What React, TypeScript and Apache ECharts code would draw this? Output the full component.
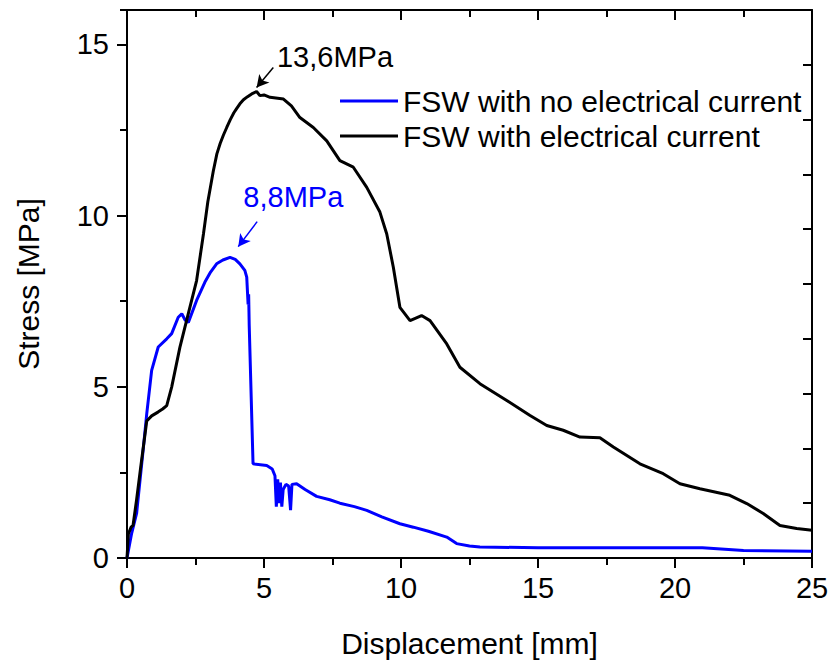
import React, { useEffect, useRef } from "react";
import * as echarts from "echarts";

// Displacement [mm] / Stress [MPa]
const blackX = [0, 0.05, 0.15, 0.22, 0.35, 0.5, 0.72, 0.9, 1.13, 1.3, 1.45, 1.63, 1.93, 2.24, 2.54, 2.79, 2.95, 3.15, 3.28, 3.4, 3.52, 3.64, 3.77, 3.9, 4.0, 4.12, 4.25, 4.4, 4.55, 4.73, 4.85, 5.0, 5.22, 5.71, 6.0, 6.31, 6.8, 7.29, 7.77, 8.26, 8.75, 9.23, 9.48, 9.72, 9.96, 10.33, 10.75, 11.06, 11.67, 12.15, 12.88, 13.86, 14.71, 15.32, 15.92, 16.53, 17.26, 17.75, 18.72, 19.57, 20.18, 20.91, 22.0, 22.62, 23.22, 23.83, 24.44, 25];
const blackY = [0, 0.7, 0.9, 0.95, 1.7, 2.65, 4.0, 4.15, 4.26, 4.35, 4.45, 4.99, 6.15, 7.14, 8.1, 9.46, 10.4, 11.3, 11.8, 12.1, 12.35, 12.57, 12.8, 13.0, 13.12, 13.26, 13.38, 13.47, 13.55, 13.62, 13.5, 13.52, 13.45, 13.4, 13.2, 12.86, 12.57, 12.18, 11.6, 11.41, 10.82, 10.1, 9.46, 8.49, 7.32, 6.93, 7.08, 6.93, 6.25, 5.57, 5.09, 4.6, 4.16, 3.87, 3.73, 3.53, 3.51, 3.24, 2.75, 2.46, 2.17, 2.02, 1.83, 1.59, 1.3, 0.95, 0.86, 0.81];

const blueX = [0, 0.17, 0.35, 0.6, 0.72, 0.9, 1.14, 1.45, 1.63, 1.87, 2.0, 2.12, 2.24, 2.54, 2.84, 3.05, 3.27, 3.5, 3.76, 3.95, 4.12, 4.3, 4.37, 4.42, 4.44, 4.46, 4.6, 5.1, 5.3, 5.4, 5.45, 5.5, 5.55, 5.6, 5.65, 5.7, 5.8, 5.9, 5.97, 6.02, 6.19, 6.5, 6.92, 7.4, 7.77, 8.3, 8.75, 9.3, 9.96, 10.45, 11.0, 11.67, 12.03, 12.5, 12.88, 15, 18, 21, 22.5, 25];
const blueY = [0, 0.72, 1.3, 3.24, 4.21, 5.48, 6.16, 6.4, 6.55, 7.03, 7.13, 6.95, 6.88, 7.52, 8.05, 8.35, 8.59, 8.7, 8.78, 8.72, 8.59, 8.4, 8.2, 7.4, 7.7, 6.8, 2.75, 2.7, 2.6, 2.4, 1.5, 2.3, 1.6, 2.2, 1.5, 2.0, 2.15, 2.1, 1.4, 2.15, 2.17, 2.0, 1.8, 1.7, 1.6, 1.5, 1.39, 1.2, 1.0, 0.9, 0.78, 0.61, 0.42, 0.35, 0.32, 0.3, 0.3, 0.3, 0.22, 0.2];

const seriesNames = ["FSW with no electrical current", "FSW with electrical current"];
const yTicks = [0, 5, 10, 15];

const peakLabels = ["13,6MPa", "8,8MPa"];
const peakLabelPos = [[7.59, 14.64], [6.07, 10.55]];
const arrowBlack = [[5.34, 14.32], [4.73, 13.74]];
const arrowBlue = [[4.75, 9.82], [4.06, 9.09]];

const FONT = "'Liberation Sans', Arial, sans-serif";

export default function App() {
  const ref = useRef<HTMLDivElement>(null);
  useEffect(() => {
    document.body.style.margin = "0";
    const chart = echarts.init(ref.current!, null, { renderer: "svg" });
    const axisLine = { show: true, onZero: false, lineStyle: { color: "#000", width: 2 } };
    const option: any = {
      animation: false,
      backgroundColor: "#fff",
      textStyle: { fontFamily: FONT },
      grid: { left: 127, right: 18, top: 10, bottom: 103, containLabel: false, outerBoundsMode: "none" },
      legend: {
        show: true,
        orient: "vertical",
        left: 335,
        top: 81,
        itemWidth: 58,
        itemHeight: 3,
        itemGap: 5,
        itemTextGap: 9,
        icon: "rect",
        textStyle: { fontSize: 30, color: "#000", fontFamily: FONT },
        data: seriesNames,
      },
      xAxis: [
        {
          type: "value",
          position: "bottom",
          min: 0,
          max: 25,
          interval: 5,
          name: "Displacement [mm]",
          nameLocation: "middle",
          nameGap: 70,
          nameTextStyle: { fontSize: 30, color: "#000", fontFamily: FONT },
          axisLine,
          axisTick: { show: true, length: 10, lineStyle: { color: "#000", width: 2 } },
          minorTick: { show: true, splitNumber: 2, length: 7, lineStyle: { color: "#000", width: 2 } },
          axisLabel: { fontSize: 29, color: "#000", margin: 15, fontFamily: FONT },
          splitLine: { show: false },
          minorSplitLine: { show: false },
        },
        {
          type: "value",
          position: "top",
          min: 0,
          max: 25,
          interval: 5,
          axisLine,
          axisTick: { show: true, inside: true, length: 10, lineStyle: { color: "#000", width: 2 } },
          minorTick: { show: true, splitNumber: 2, length: 7, lineStyle: { color: "#000", width: 2 } },
          axisLabel: { show: true, inside: true, color: "rgba(0,0,0,0)", fontSize: 10 },
          splitLine: { show: false },
          minorSplitLine: { show: false },
        },
      ],
      yAxis: [
        {
          type: "value",
          position: "left",
          min: 0,
          max: 16,
          name: "Stress [MPa]",
          nameLocation: "middle",
          nameGap: 84,
          nameTextStyle: { fontSize: 30, color: "#000", fontFamily: FONT },
          axisLine,
          axisTick: { show: true, length: 10, lineStyle: { color: "#000", width: 2 }, customValues: yTicks },
          axisLabel: { fontSize: 29, color: "#000", margin: 18, fontFamily: FONT, customValues: yTicks },
          splitLine: { show: false },
        },
        {
          type: "value",
          position: "left",
          min: 0,
          max: 16,
          interval: 2.5,
          axisLine,
          axisTick: { show: true, length: 7, lineStyle: { color: "#000", width: 2 } },
          axisLabel: { show: true, inside: true, color: "rgba(0,0,0,0)", fontSize: 10 },
          splitLine: { show: false },
        },
        {
          type: "value",
          position: "right",
          min: 0,
          max: 16,
          interval: 1.6,
          axisLine,
          axisTick: { show: true, inside: true, length: 9, lineStyle: { color: "#000", width: 2 } },
          axisLabel: { show: false },
          splitLine: { show: false },
        },
      ],
      series: [
        {
          name: seriesNames[0],
          type: "line",
          xAxisIndex: 0,
          yAxisIndex: 0,
          color: "#0000ff",
          showSymbol: false,
          symbol: "none",
          lineStyle: { color: "#0000ff", width: 3 },
          data: blueX.map((x, i) => [x, blueY[i]]),
          z: 2,
          markLine: {
            silent: true,
            symbol: ["none", "arrow"],
            symbolSize: [10, 12],
            label: { show: false },
            lineStyle: { color: "#0000ff", width: 1.5, type: "solid" },
            data: [[{ coord: arrowBlue[0] }, { coord: arrowBlue[1] }]],
          },
          markPoint: {
            silent: true,
            symbol: "circle",
            symbolSize: 0,
            itemStyle: { color: "transparent" },
            label: { show: true, position: "inside", color: "#0000ff", fontSize: 29, fontFamily: FONT },
            data: [{ coord: peakLabelPos[1], label: { formatter: peakLabels[1] } }],
          },
        },
        {
          name: seriesNames[1],
          type: "line",
          xAxisIndex: 0,
          yAxisIndex: 0,
          color: "#000000",
          showSymbol: false,
          symbol: "none",
          lineStyle: { color: "#000000", width: 3 },
          data: blackX.map((x, i) => [x, blackY[i]]),
          z: 3,
          markLine: {
            silent: true,
            symbol: ["none", "arrow"],
            symbolSize: [10, 12],
            label: { show: false },
            lineStyle: { color: "#000", width: 1.5, type: "solid" },
            data: [[{ coord: arrowBlack[0] }, { coord: arrowBlack[1] }]],
          },
          markPoint: {
            silent: true,
            symbol: "circle",
            symbolSize: 0,
            itemStyle: { color: "transparent" },
            label: { show: true, position: "inside", color: "#000", fontSize: 29, fontFamily: FONT },
            data: [{ coord: peakLabelPos[0], label: { formatter: peakLabels[0] } }],
          },
        },
      ],
    };
    chart.setOption(option);
    return () => chart.dispose();
  }, []);
  return (
    <div
      ref={ref}
      style={{ position: "fixed", left: 0, top: 0, width: 830, height: 661, background: "#fff" }}
    />
  );
}
